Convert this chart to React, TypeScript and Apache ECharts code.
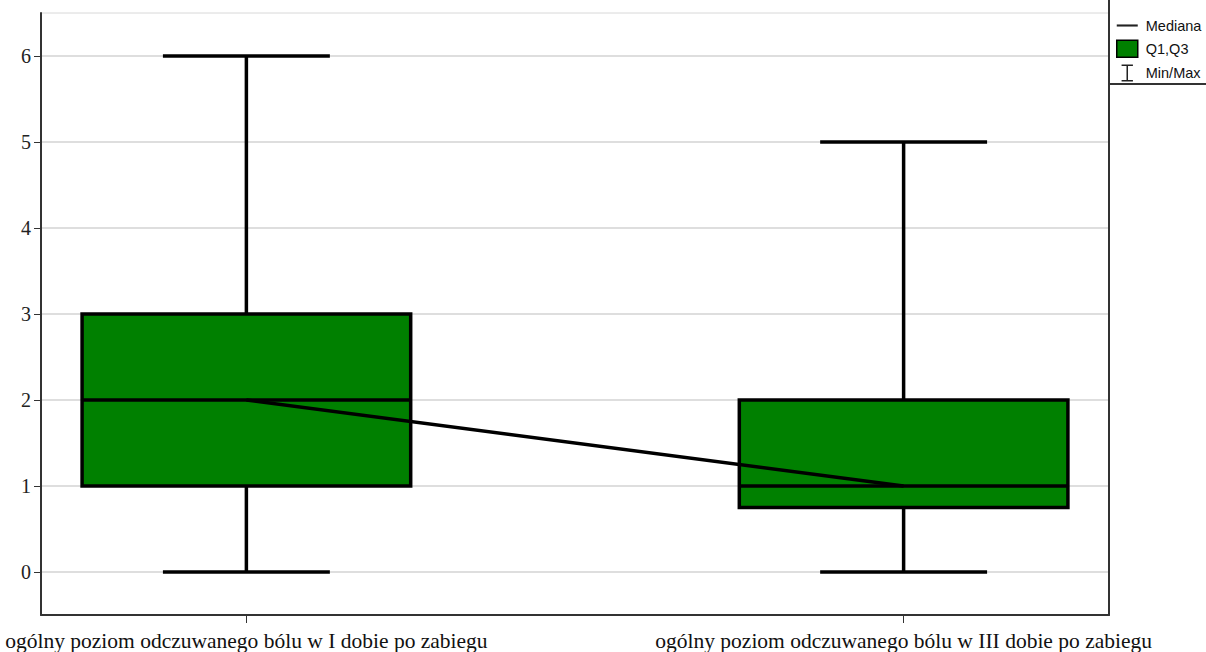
import React, { useEffect, useRef } from "react";
import * as echarts from "echarts";

const categories = [
  "ogólny poziom odczuwanego bólu w I dobie po zabiegu",
  "ogólny poziom odczuwanego bólu w III dobie po zabiegu",
];
const minValues = [0, 0];
const q1Values = [1, 0.75];
const medianValues = [2, 1];
const q3Values = [3, 2];
const maxValues = [6, 5];
const yTicks = [0, 1, 2, 3, 4, 5, 6];
const xTicks = [0, 1];
const legendNames = ["Mediana", "Q1,Q3", "Min/Max"];

const BOX_HALF = 0.25;
const CAP_HALF = 0.127;

export default function App() {
  const ref = useRef<HTMLDivElement>(null);
  useEffect(() => {
    const chart = echarts.init(ref.current!, null, { renderer: "svg" });
    const boxData = categories.map((_, i) => [
      i,
      minValues[i],
      q1Values[i],
      medianValues[i],
      q3Values[i],
      maxValues[i],
    ]);
    const option: any = {
      animation: false,
      grid: {
        left: 41,
        right: 97,
        top: 13,
        bottom: 37,
        show: true,
        borderColor: "#d8d8d8",
        borderWidth: 1,
        backgroundColor: "transparent",
      },
      legend: {
        orient: "vertical",
        left: 1116,
        top: 18,
        padding: 0,
        itemWidth: 21,
        itemHeight: 17,
        itemGap: 6.5,
        selectedMode: false,
        textStyle: {
          fontFamily: "Liberation Sans, Arial, sans-serif",
          fontSize: 14.5,
          color: "#111",
          padding: [0, 0, 0, 3],
        },
        data: [
          {
            name: legendNames[0],
            icon: "path://M0,0H20V2H0Z",
            itemStyle: { color: "#222" },
          },
          {
            name: legendNames[1],
            icon: "rect",
            itemStyle: { color: "#008000", borderColor: "#000", borderWidth: 1.5 },
          },
          {
            name: legendNames[2],
            icon: "path://M0,0H12V1.6H6.8V16.4H12V18H0V16.4H5.2V1.6H0Z",
            itemStyle: { color: "#222" },
          },
        ],
      },
      xAxis: {
        type: "value",
        min: -0.3125,
        max: 1.3125,
        splitLine: { show: false },
        axisLine: { show: true, onZero: false, lineStyle: { color: "#333", width: 2 } },
        axisTick: {
          show: true,
          customValues: xTicks,
          length: 8,
          lineStyle: { color: "#333", width: 1 },
        },
        axisLabel: {
          customValues: xTicks,
          formatter: (v: number) => categories[Math.round(v)] ?? "",
          fontFamily: "Liberation Serif, Times New Roman, serif",
          fontSize: 21.5,
          color: "#111",
          margin: 15,
        },
      },
      yAxis: [
        {
          type: "value",
          min: -0.5,
          max: 6.5,
          axisLine: { show: true, onZero: false, lineStyle: { color: "#333", width: 2 } },
          axisTick: {
            show: true,
            customValues: yTicks,
            length: 7,
            lineStyle: { color: "#333", width: 1 },
          },
          axisLabel: {
            customValues: yTicks,
            fontFamily: "Liberation Serif, Times New Roman, serif",
            fontSize: 20,
            color: "#222",
            margin: 10,
          },
          splitLine: { show: true, lineStyle: { color: "#d3d3d3", width: 1.5 } },
        },
        {
          type: "value",
          position: "right",
          min: -0.5,
          max: 6.5,
          axisLine: { show: true, onZero: false, lineStyle: { color: "#333", width: 2 } },
          axisTick: { show: false },
          axisLabel: { show: false },
          splitLine: { show: false },
        },
      ],
      graphic: [
        {
          type: "polyline",
          shape: { points: [[1109, 0], [1109, 84], [1206, 84]] },
          style: { stroke: "#333", lineWidth: 2, fill: "none" },
          z: 100,
        },
      ],
      series: [
        {
          name: legendNames[2],
          type: "custom",
          itemStyle: { color: "#222" },
          encode: { x: 0, y: [1, 5] },
          data: boxData,
          z: 2,
          renderItem: (params: any, api: any) => {
            const x = api.value(0);
            const pMin = api.coord([x, api.value(1)]);
            const pMax = api.coord([x, api.value(5)]);
            const cl = api.coord([x - CAP_HALF, api.value(1)])[0];
            const cr = api.coord([x + CAP_HALF, api.value(1)])[0];
            const st = { stroke: "#000", lineWidth: 3.5 };
            return {
              type: "group",
              children: [
                { type: "line", shape: { x1: pMin[0], y1: pMin[1], x2: pMax[0], y2: pMax[1] }, style: st },
                { type: "line", shape: { x1: cl, y1: pMin[1], x2: cr, y2: pMin[1] }, style: st },
                { type: "line", shape: { x1: cl, y1: pMax[1], x2: cr, y2: pMax[1] }, style: st },
              ],
            };
          },
        },
        {
          name: legendNames[1],
          type: "custom",
          itemStyle: { color: "#008000", borderColor: "#000", borderWidth: 1.5 },
          encode: { x: 0, y: [2, 3, 4] },
          data: boxData,
          z: 3,
          renderItem: (params: any, api: any) => {
            const x = api.value(0);
            const l = api.coord([x - BOX_HALF, api.value(4)]);
            const r = api.coord([x + BOX_HALF, api.value(2)]);
            const m = api.coord([x, api.value(3)]);
            return {
              type: "group",
              children: [
                {
                  type: "rect",
                  shape: { x: l[0], y: l[1], width: r[0] - l[0], height: r[1] - l[1] },
                  style: { fill: "#008000", stroke: "#000", lineWidth: 3.5 },
                },
                {
                  type: "line",
                  shape: { x1: l[0], y1: m[1], x2: r[0], y2: m[1] },
                  style: { stroke: "#000", lineWidth: 3.5 },
                },
              ],
            };
          },
        },
        {
          name: legendNames[0],
          type: "line",
          data: categories.map((_, i) => [i, medianValues[i]]),
          symbol: "none",
          itemStyle: { color: "#222" },
          lineStyle: { color: "#000", width: 3.5 },
          z: 5,
        },
      ],
    };
    chart.setOption(option);
    return () => chart.dispose();
  }, []);
  return (
    <div
      ref={ref}
      style={{ position: "absolute", left: 0, top: 0, width: 1206, height: 652 }}
    />
  );
}
